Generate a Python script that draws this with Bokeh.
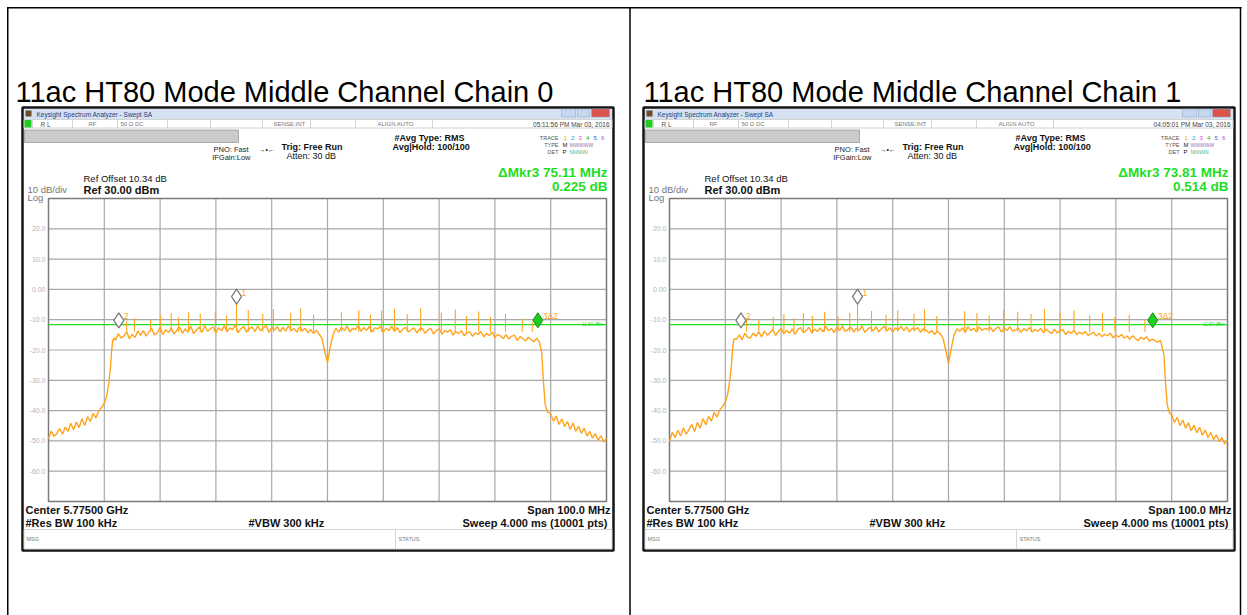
import numpy as np
from bokeh.plotting import figure
from bokeh.models import Range1d
from bokeh.core.properties import value
from bokeh.embed import file_html
from bokeh.resources import INLINE

# ---------------- data ----------------
titles = ["11ac HT80 Mode Middle Channel Chain 0", "11ac HT80 Mode Middle Channel Chain 1"]
timestamps = ["05:11:56 PM Mar 03, 2016", "04:05:01 PM Mar 03, 2016"]
delta_freq = ["\u0394Mkr3 75.11 MHz", "\u0394Mkr3 73.81 MHz"]
delta_level = ["0.225 dB", "0.514 dB"]

freq_start, freq_stop = 5725.0, 5825.0      # MHz (center 5.775 GHz, span 100 MHz)
ref_top, ref_bottom = 30.0, -70.0           # dBm, 10 dB/div
x_grid = [5735, 5745, 5755, 5765, 5775, 5785, 5795, 5805, 5815]
y_ticks = [20, 10, 0, -10, -20, -30, -40, -50, -60]
y_tick_labels = ["20.0", "10.0", "0.00", "-10.0", "-20.0", "-30.0", "-40.0", "-50.0", "-60.0"]
display_line = [-11.6, -11.6]

# chain 0 trace
skirt_left_0 = [-49.2, -46.8, -48.5, -47.6, -45.9, -47.8, -45.4, -46.9, -44.2, -46.3,
                -43.8, -45.6, -42.7, -44.9, -42.0, -43.6, -40.9, -42.4, -40.1, -39.0]
edge_left_f = [5735.0, 5735.4, 5735.8, 5736.1, 5736.3, 5736.5, 5736.8]
edge_left_0 = [-37.5, -35.5, -31.0, -26.0, -20.5, -17.0, -16.0]
plateau_0 = [-16.8, -14.6, -16.0, -15.4, -13.9, -16.3, -14.8, -15.9, -13.7, -15.2,
             -13.6, -15.4, -14.1, -12.9, -15.0, -14.4, -12.6, -14.9, -13.3, -14.2,
             -12.8, -14.7, -13.5, -12.4, -14.5, -13.0, -14.1, -12.2, -14.6, -13.4,
             -12.5, -14.2, -11.9, -13.8, -13.1, -12.3, -14.4, -12.6, -13.7, -12.0,
             -14.0, -12.7, -13.3, -11.8, -14.3, -12.9, -12.2, -14.1, -13.0, -12.4,
             -13.9, -12.1, -13.6, -12.8, -11.9, -14.2, -12.6, -13.4, -12.3, -14.0,
             -12.5, -13.8, -12.0, -13.5, -12.9, -14.1, -12.4, -13.7, -12.8, -14.3,
             -13.2, -14.6, -13.5, -14.8, -16.2, -20.4, -24.2, -18.9, -14.9, -12.8,
             -14.1, -12.5, -13.6, -12.1, -14.0, -12.9, -13.3, -11.9, -13.8, -12.6,
             -13.5, -12.2, -14.1, -12.7, -13.0, -12.3, -14.2, -12.8, -13.6, -12.1,
             -13.9, -12.6, -14.3, -13.1, -12.5, -14.0, -13.3, -12.7, -14.4, -13.0,
             -12.9, -14.5, -13.4, -12.8, -14.7, -13.6, -13.0, -14.8, -13.5, -14.1,
             -13.3, -15.1, -13.9, -14.6, -13.6, -15.3, -14.2, -14.0, -15.5, -14.3,
             -14.9, -13.9, -15.7, -14.5, -15.2, -14.1, -15.9, -14.8, -15.4, -16.2,
             -14.9, -16.4, -15.5, -15.1, -16.8, -15.6, -16.2, -17.0, -15.8, -16.6,
             -17.3, -16.1, -17.5]
edge_right_f0 = [5813.4, 5813.7, 5814.0, 5814.4]
edge_right_0 = [-21.0, -30.5, -37.8, -40.5]
skirt_right_0 = [-41.0, -43.5, -41.8, -44.6, -42.7, -45.3, -43.6, -46.2, -44.1, -46.8, -45.2,
                 -47.5, -45.8, -48.4, -46.9, -49.1, -47.6, -49.8, -48.3, -50.4, -49.1]
spike_f_0 = [5739.0, 5740.4, 5743.3, 5745.1, 5747.0, 5748.3, 5750.1, 5752.2, 5754.9, 5756.9,
             5758.7, 5760.8, 5763.4, 5765.3, 5768.4, 5770.2, 5772.5, 5777.5, 5780.6, 5782.7,
             5784.7, 5787.0, 5789.3, 5791.7, 5795.4, 5797.9, 5799.9, 5802.1, 5804.2, 5806.9,
             5809.9, 5811.7]
spike_db_0 = [-10.5, -9.5, -10.0, -8.5, -7.8, -9.2, -7.5, -8.0, -7.2, -8.6,
              -4.2, -6.8, -8.1, -6.5, -7.7, -6.2, -8.3, -7.5, -6.9, -8.4,
              -7.0, -6.4, -8.2, -6.1, -7.6, -6.6, -8.8, -7.3, -9.0, -8.0,
              -9.6, -10.8]
marker_f_0 = [5758.7, 5737.6, 5812.7]
marker_db_0 = [-2.4, -10.2, -10.2]

# chain 1 trace
skirt_left_1 = [-50.1, -47.2, -48.9, -46.5, -48.3, -45.7, -47.8, -46.2, -44.6, -46.9,
                -43.9, -45.8, -42.6, -44.7, -41.9, -43.5, -40.6, -42.2, -39.8, -38.7]
edge_left_1 = [-37.2, -34.8, -30.2, -25.0, -19.8, -16.8, -16.2]
plateau_1 = [-16.5, -15.0, -16.6, -14.5, -15.8, -16.1, -14.4, -15.5, -14.0, -15.7,
             -13.8, -15.1, -14.3, -13.2, -15.2, -13.9, -12.8, -14.7, -13.5, -14.5,
             -13.0, -14.9, -13.2, -12.6, -14.3, -13.6, -12.5, -14.4, -13.1, -13.9,
             -12.7, -14.0, -12.2, -13.6, -12.9, -14.3, -12.4, -13.5, -12.1, -13.9,
             -13.2, -12.4, -14.1, -12.8, -13.5, -12.0, -14.2, -13.1, -12.5, -13.8,
             -12.3, -14.0, -12.9, -12.2, -13.7, -12.6, -14.1, -12.7, -13.4, -12.2,
             -13.6, -12.4, -14.0, -12.8, -13.3, -12.6, -14.2, -13.0, -13.5, -14.4,
             -13.6, -14.9, -13.8, -14.6, -16.0, -20.0, -24.5, -19.3, -15.1, -13.0,
             -13.8, -12.7, -14.2, -12.3, -13.6, -12.8, -14.0, -12.4, -13.5, -12.9,
             -13.2, -12.5, -13.9, -12.9, -12.4, -14.1, -12.7, -13.6, -12.3, -13.8,
             -13.4, -12.8, -14.2, -12.9, -13.7, -12.6, -14.1, -13.2, -13.8, -12.9,
             -14.3, -13.2, -13.9, -14.6, -13.1, -14.4, -13.7, -13.3, -14.9, -13.8,
             -14.5, -13.6, -15.0, -14.1, -14.8, -13.9, -15.2, -14.6, -14.2, -15.4,
             -14.5, -15.6, -14.8, -15.3, -14.4, -16.0, -15.0, -15.7, -14.9, -16.1,
             -15.4, -16.5, -15.3, -16.2, -16.9, -15.8, -16.5, -15.6, -17.1, -16.4,
             -16.9, -17.4, -16.8]
edge_right_f1 = [5813.6, 5813.9, 5814.2, 5814.6]
edge_right_1 = [-21.5, -31.0, -38.2, -40.8]
skirt_right_1 = [-41.4, -43.9, -42.2, -45.0, -43.1, -45.8, -44.0, -46.6, -44.8, -47.3, -45.5,
                 -48.1, -46.4, -48.9, -47.2, -49.6, -48.0, -50.3, -48.9, -51.0, -49.7]
spike_f_1 = [5738.8, 5741.0, 5743.6, 5745.5, 5747.3, 5749.0, 5750.6, 5752.8, 5755.2, 5757.3,
             5758.7, 5761.2, 5763.8, 5765.9, 5768.8, 5770.7, 5772.9, 5777.9, 5780.1, 5782.3,
             5784.9, 5787.4, 5789.8, 5792.2, 5795.0, 5797.5, 5800.3, 5802.6, 5804.8, 5807.4,
             5810.2]
spike_db_1 = [-9.8, -10.2, -9.0, -8.2, -9.5, -7.9, -8.7, -7.4, -8.9, -7.6,
              -4.0, -7.1, -8.4, -6.9, -8.0, -6.6, -8.8, -7.2, -7.8, -8.5,
              -6.8, -7.4, -8.1, -6.5, -7.9, -7.0, -8.6, -7.7, -9.2, -8.4,
              -9.9]
marker_f_1 = [5758.7, 5737.8, 5811.6]
marker_db_1 = [-2.4, -10.2, -10.2]
marker_labels = ["1", "2", "3\u03942"]

# sample grids of the sweep (x positions of the listed points)
skirt_left_f = list(np.arange(5725.0, 5735.0, 0.5))
plateau_f = list(np.arange(5737.0, 5813.01, 0.5))
skirt_right_f = list(np.arange(5815.0, 5825.01, 0.5))

traces = [
    (skirt_left_f + edge_left_f + plateau_f + edge_right_f0 + skirt_right_f,
     skirt_left_0 + edge_left_0 + plateau_0 + edge_right_0 + skirt_right_0),
    (skirt_left_f + edge_left_f + plateau_f + edge_right_f1 + skirt_right_f,
     skirt_left_1 + edge_left_1 + plateau_1 + edge_right_1 + skirt_right_1),
]
spikes = [(spike_f_0, spike_db_0), (spike_f_1, spike_db_1)]
markers = [(marker_f_0, marker_db_0), (marker_f_1, marker_db_1)]

# ---------------- page ----------------
W, H = 1247, 615
FONT = value("Liberation Sans")
TRACE = "#ffa41c"
GREEN = "#22dd22"

p = figure(width=W, height=H, x_range=Range1d(0, W), y_range=Range1d(H, 0),
           output_backend="svg", toolbar_location=None, min_border=0,
           x_axis_location=None, y_axis_location=None)
p.grid.visible = False
p.outline_line_color = None
p.background_fill_color = "white"

# table borders
p.segment(x0=[6.5, 7.25, 629.5, 1240], x1=[1241, 7.25, 629.5, 1240],
          y0=[7.25, 6.5, 6.5, 6.5], y1=[7.25, 615, 615, 615], line_color="black", line_width=1.5)


def txt(x, y, s, size, color="black", bold=False, align="left", base="middle"):
    p.text(x=[x], y=[y], text=[s], text_font=FONT, text_font_size=size, text_color=color,
           text_font_style="bold" if bold else "normal", text_align=align, text_baseline=base)


def panel(i, ox):
    L, R, T, B = 22 + ox, 613 + ox, 107, 550
    txt(15 if i == 0 else 643, 91, titles[i], "29px", base="middle")
    p.quad(left=[L], right=[R], top=[T], bottom=[B], fill_color="white",
           line_color="#151515", line_width=2.5)
    # window title bar
    p.quad(left=[L + 1.5], right=[R - 1.5], top=[108.5], bottom=[118.5],
           fill_color="#d4e2f2", line_color=None)
    p.quad(left=[L + 3], right=[L + 9], top=[110], bottom=[116], fill_color="#6b4c2a", line_color=None)
    txt(L + 14, 113.5, "Keysight Spectrum Analyzer - Swept SA", "6.5px", "#27407a")
    p.quad(left=[R - 52, R - 36, R - 22], right=[R - 38, R - 24, R - 4], top=[108.5] * 3,
           bottom=[116.5] * 3, fill_color=["#c5d7ee", "#c5d7ee", "#d9534a"],
           line_color="#8fa3bf", line_width=0.5)
    # status row
    p.quad(left=[L + 1.5], right=[R - 1.5], top=[119], bottom=[127.5], fill_color="white",
           line_color="#c8c8c8", line_width=0.8)
    seps = [L + 10, L + 50, L + 95, L + 145, L + 188, L + 240, L + 288, L + 333, L + 410]
    p.segment(x0=seps, x1=seps, y0=[119] * len(seps), y1=[127.5] * len(seps),
              line_color="#c8c8c8", line_width=0.8)
    p.quad(left=[L + 2], right=[L + 9], top=[119.5], bottom=[127], fill_color="#1fcc1f", line_color=None)
    txt(L + 18, 123.5, "R L", "6.5px", "#555555")
    txt(L + 66, 123.5, "RF", "6px", "#777777")
    txt(L + 98, 123.5, "50 \u03a9   DC", "6px", "#777777")
    txt(L + 251, 123.5, "SENSE:INT", "6px", "#777777")
    txt(L + 355, 123.5, "ALIGN AUTO", "6px", "#777777")
    txt(R - 4, 123.5, timestamps[i], "6.5px", "#444444", align="right")
    # gray bar
    p.quad(left=[L + 2], right=[L + 216], top=[129.5], bottom=[142], fill_color="#cbcbcb",
           line_color="#9a9a9a", line_width=0.8)
    # settings text
    txt(L + 226, 149, "PNO: Fast", "7.5px", "#222222", align="right")
    txt(L + 228, 157, "IFGain:Low", "7.5px", "#222222", align="right")
    txt(L + 236, 149, "\u2192\u2022\u2190", "7px", "#222222")
    txt(L + 259, 146, "Trig: Free Run", "9px", "#111111", bold=True)
    txt(L + 264, 155.5, "Atten: 30 dB", "9px", "#111111")
    txt(L + 372, 137, "#Avg Type: RMS", "9px", "#111111", bold=True)
    txt(L + 370, 146, "Avg|Hold: 100/100", "9px", "#111111", bold=True)
    txt(L + 536, 137, "TRACE", "5.5px", "#555555", align="right")
    digits = ["1", "2", "3", "4", "5", "6"]
    dcols = ["#d8b000", "#00a8d8", "#e040d0", "#20b020", "#3060e0", "#a050e0"]
    for k in range(6):
        txt(L + 541 + k * 7.5, 137, digits[k], "6px", dcols[k])
    txt(L + 536, 144, "TYPE", "5.5px", "#555555", align="right")
    txt(L + 540, 144, "M", "6px", "#222222")
    txt(L + 547, 144, "WWWWW", "5px", "#9a6fb0")
    txt(L + 536, 151, "DET", "5.5px", "#555555", align="right")
    txt(L + 540, 151, "P", "6px", "#222222")
    txt(L + 547, 151, "NNNNN", "5px", "#50b080")
    txt(R - 6, 172, delta_freq[i], "13.5px", GREEN, bold=True, align="right")
    txt(R - 6, 186, delta_level[i], "13.5px", GREEN, bold=True, align="right")
    txt(L + 61, 178, "Ref Offset 10.34 dB", "9.5px", "#111111")
    txt(L + 61, 189, "Ref 30.00 dBm", "11px", "#111111", bold=True)
    txt(L + 5, 189, "10 dB/div", "9.5px", "#777777")
    txt(L + 5, 196.5, "Log", "9.5px", "#777777")
    # footer
    txt(L + 3, 509, "Center 5.77500 GHz", "11px", "#111111", bold=True)
    txt(L + 3, 522, "#Res BW 100 kHz", "11px", "#111111", bold=True)
    txt(L + 226, 522, "#VBW 300 kHz", "11px", "#111111", bold=True)
    txt(R - 3, 509, "Span 100.0 MHz", "11px", "#111111", bold=True, align="right")
    txt(R - 3, 522, "Sweep  4.000 ms (10001 pts)", "11px", "#111111", bold=True, align="right")
    p.quad(left=[L + 1.5], right=[R - 1.5], top=[529], bottom=[548.5], fill_color="white",
           line_color="#c8c8c8", line_width=0.8)
    p.segment(x0=[L + 373], x1=[L + 373], y0=[529], y1=[548.5], line_color="#c8c8c8", line_width=0.8)
    txt(L + 4, 538.5, "MSG", "5.5px", "#777777")
    txt(L + 376, 538.5, "STATUS", "5.5px", "#777777")

    # ---- measurement area (data coordinates) ----
    sp = p.subplot(x_source=Range1d(freq_start, freq_stop), y_source=Range1d(ref_bottom, ref_top),
                   x_target=Range1d(48 + ox, 606 + ox), y_target=Range1d(501, 198))
    sp.segment(x0=x_grid, x1=x_grid, y0=[ref_bottom] * 9, y1=[ref_top] * 9,
               line_color="#a9a9a9", line_width=1.2)
    sp.segment(x0=[freq_start] * 9, x1=[freq_stop] * 9, y0=y_ticks, y1=y_ticks,
               line_color="#a9a9a9", line_width=1.2)
    sp.quad(left=[freq_start], right=[freq_stop], bottom=[ref_bottom], top=[ref_top],
            fill_color=None, line_color="#7a7a7a", line_width=1.5)
    sp.text(x=[freq_start] * 9, y=y_ticks, text=y_tick_labels, x_offset=-3,
            text_font=FONT, text_font_size="7px", text_color="#b5b5b5",
            text_align="right", text_baseline="middle")
    sp.line(x=[freq_start, freq_stop], y=display_line, line_color=GREEN, line_width=1.2)
    sp.text(x=[freq_stop], y=[display_line[0]], text=["-11.60 dBm"], x_offset=-3,
            text_font=FONT, text_font_size="4.5px", text_color=GREEN,
            text_align="right", text_baseline="middle")
    f, db = traces[i]
    sp.line(x=f, y=db, line_color=TRACE, line_width=1.4)
    sf, sd = spikes[i]
    sp.segment(x0=sf, x1=sf, y0=[-14.0] * len(sf), y1=sd, line_color=TRACE, line_width=1.1)
    mf, md = markers[i]
    sp.scatter(x=mf[:2], y=md[:2], marker="diamond", size=15, fill_color="white",
               line_color="#7d7d7d", line_width=1.3)
    sp.scatter(x=mf[2:], y=md[2:], marker="diamond", size=15, fill_color="#1fcc1f",
               line_color="#118811", line_width=1)
    sp.text(x=mf, y=md, text=marker_labels, x_offset=5, y_offset=-4,
            text_font=FONT, text_font_size="8.5px", text_color=TRACE,
            text_align="left", text_baseline="middle")


panel(0, 0)
panel(1, 621)

open("out.html", "w").write(file_html(p, INLINE))
